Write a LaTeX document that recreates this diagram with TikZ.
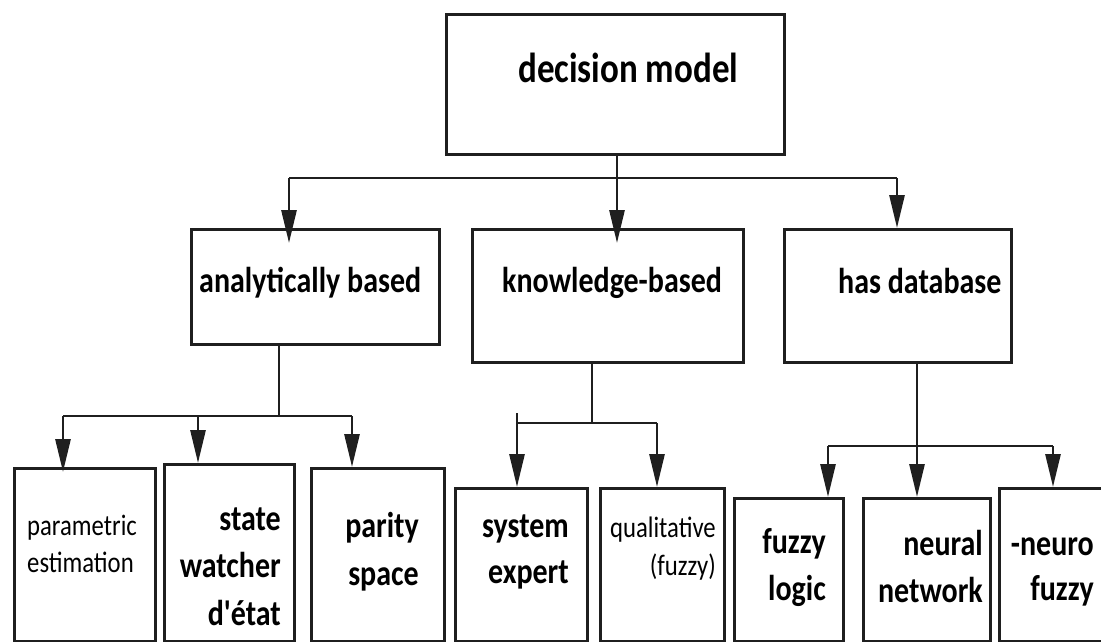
\documentclass[tikz,border=0pt]{standalone}
\usepackage{fontspec}
\setmainfont{Carlito}
\usetikzlibrary{arrows.meta}
% letters are set a little taller than wide
\newcommand\tall[1]{\scalebox{1}[1.2]{#1}}
\begin{document}
\begin{tikzpicture}[x=1pt,y=-1pt,
  box/.style={draw=black!88, line width=3pt, rectangle, inner sep=0pt, anchor=north west},
  wire/.style={draw=black!88, line width=2.8pt},
  arr/.style={wire, -{Triangle[length=33pt,width=15pt]}},
  lbl/.style={inner sep=0pt, text=black},
  big/.style={lbl, font=\bfseries\fontsize{35}{40}\selectfont},
  mid/.style={lbl, font=\bfseries\fontsize{30}{36}\selectfont},
  thin/.style={lbl, font=\fontsize{24.7}{30}\selectfont}]

\useasboundingbox (0,0) rectangle (1101,642);
\fill[white] (0,0) rectangle (1101,642);
\clip (0,0) rectangle (1101,642);

% ---- boxes
\node[box, minimum width=338pt, minimum height=140pt] (dm) at (445,13) {};
\node[box, minimum width=248pt, minimum height=115pt] (ab) at (190,228) {};
\node[box, minimum width=271pt, minimum height=133pt] (kb) at (471,228) {};
\node[box, minimum width=227pt, minimum height=133pt] (db) at (783,228) {};
\node[box, minimum width=141pt, minimum height=173pt] (pe) at (13,467) {};
\node[box, minimum width=130pt, minimum height=177pt] (sw) at (163,463) {};
\node[box, minimum width=133pt, minimum height=173pt] (ps) at (310,467) {};
\node[box, minimum width=132pt, minimum height=153pt] (se) at (454,487) {};
\node[box, minimum width=124pt, minimum height=153pt] (qf) at (599,487) {};
\node[box, minimum width=109pt, minimum height=143pt] (fl) at (733,497) {};
\node[box, minimum width=127pt, minimum height=143pt] (nn) at (862,497) {};
\node[box, minimum width=130pt, minimum height=153pt] (nf) at (998,487) {};

% ---- labels
\node[big, anchor=base west] (tdm) at (518,82) {\tall{decision model}};
\node[mid, anchor=base west] (tab) at (199,292) {\tall{analytically based}};
\node[mid, anchor=base west] (tkb) at (502,292) {\tall{knowledge-based}};
\node[mid, anchor=base west] (tdb) at (838,293) {\tall{has database}};

\node[thin, anchor=base west] (tpe1) at (27,535) {\tall{parametric}};
\node[thin, anchor=base west] (tpe2) at (27,572) {\tall{estimation}};

\node[mid, anchor=base east] (tsw1) at (281,530) {\tall{state}};
\node[mid, anchor=base east] (tsw2) at (281,577) {\tall{watcher}};
\node[mid, anchor=base east] (tsw3) at (281,625) {\tall{d\textquotesingle état}};

\node[mid, anchor=base east] (tps1) at (419,537) {\tall{parity}};
\node[mid, anchor=base east] (tps2) at (419,585) {\tall{space}};

\node[mid, anchor=base east] (tse1) at (569,537) {\tall{system}};
\node[mid, anchor=base east] (tse2) at (569,583) {\tall{expert}};

\node[thin, anchor=base east] (tqf1) at (716,537) {\tall{qualitative}};
\node[thin, anchor=base east] (tqf2) at (716,575) {\tall{(fuzzy)}};

\node[mid, anchor=base east] (tfl1) at (826,553) {\tall{fuzzy}};
\node[mid, anchor=base east] (tfl2) at (826,600) {\tall{logic}};

\node[mid, anchor=base east] (tnn1) at (983,555) {\tall{neural}};
\node[mid, anchor=base east] (tnn2) at (983,602) {\tall{network}};

\node[mid, anchor=base east] (tnf1) at (1094,555) {\tall{-neuro}};
\node[mid, anchor=base east] (tnf2) at (1094,600) {\tall{fuzzy}};

% ---- first level
\coordinate (t0) at (617,178);
\coordinate (tl) at (289,178);
\coordinate (tr) at (897,178);
\draw[wire] (dm.south -| t0) -- (t0);
\draw[wire] (tl) -- (tr);
\draw[arr, shorten >=-15pt] (tl) -- (ab.north -| tl);
\draw[arr, shorten >=-15pt] (t0) -- (kb.north -| t0);
\draw[arr] (tr) -- (db.north -| tr);

% ---- analytically based
\coordinate (a0) at (279,416);
\coordinate (al) at (63,416);
\coordinate (am) at (198,416);
\coordinate (ar) at (352,416);
\draw[wire] (ab.south -| a0) -- (a0);
\draw[wire] (al) -- (ar);
\draw[arr, shorten >=-5pt] (al) -- (pe.north -| al);
\draw[arr] (am) -- (sw.north -| am);
\draw[arr] (ar) -- (ps.north -| ar);

% ---- knowledge-based
\coordinate (k0) at (592,423);
\coordinate (ks) at (517,413);
\coordinate (kl) at (517,423);
\coordinate (kr) at (657,423);
\draw[wire] (kb.south -| k0) -- (k0);
\draw[wire] (ks) -- (kl) -- (kr);
\draw[arr] (kl) -- (se.north -| kl);
\draw[arr] (kr) -- (qf.north -| kr);

% ---- has database
\coordinate (d0) at (917,446);
\coordinate (dl) at (828,446);
\coordinate (dr) at (1053,446);
\draw[wire] (db.south -| d0) -- (d0);
\draw[wire] (dl) -- (dr);
\draw[arr] (dl) -- (fl.north -| dl);
\draw[arr] (d0) -- (nn.north -| d0);
\draw[arr] (dr) -- (nf.north -| dr);
\end{tikzpicture}
\end{document}
